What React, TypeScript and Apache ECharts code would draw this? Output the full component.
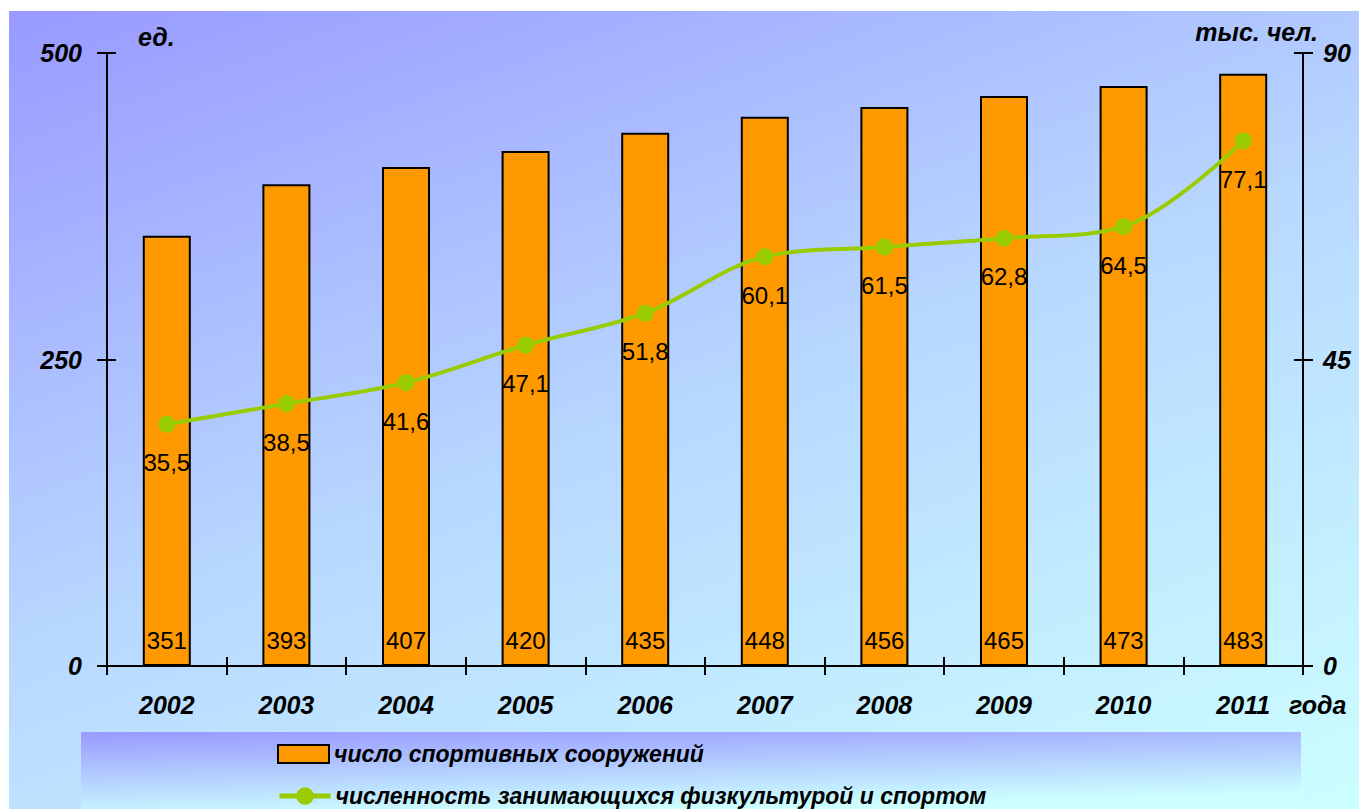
import React, { useEffect, useRef } from "react";
import * as echarts from "echarts";

const years = ["2002", "2003", "2004", "2005", "2006", "2007", "2008", "2009", "2010", "2011"];
const facilities = [351, 393, 407, 420, 435, 448, 456, 465, 473, 483];
const participants = [35.5, 38.5, 41.6, 47.1, 51.8, 60.1, 61.5, 62.8, 64.5, 77.1];
const barName = "число спортивных сооружений";
const lineName = "численность занимающихся физкультурой и спортом";
const leftUnit = "ед.";
const rightUnit = "тыс. чел.";
const xUnit = "года";

const FONT = "Arial, 'Liberation Sans', sans-serif";

export default function App() {
  const ref = useRef<HTMLDivElement>(null);
  useEffect(() => {
    if (!ref.current) return;
    const chart = echarts.init(ref.current, null, { renderer: "svg" });
    const axisLabelStyle = {
      fontFamily: FONT,
      fontSize: 25,
      fontWeight: "bold" as const,
      fontStyle: "italic" as const,
      color: "#000",
    };
    const lineStyle = { color: "#000", width: 2 };
    const legendText = {
      fontFamily: FONT,
      fontSize: 23,
      lineHeight: 24,
      fontWeight: "bold" as const,
      fontStyle: "italic" as const,
      color: "#000",
    };
    chart.setOption({
      animation: false,
      backgroundColor: "transparent",
      grid: { left: 98, right: 56, top: 42, bottom: 143, containLabel: false },
      legend: [
        {
          left: 268,
          top: 731,
          padding: 0,
          itemWidth: 51,
          itemHeight: 18,
          itemGap: 8,
          selectedMode: false,
          textStyle: legendText,
          data: [{ name: barName, icon: "rect" }],
        },
        {
          left: 268,
          top: 773,
          padding: 0,
          itemWidth: 51,
          itemHeight: 22,
          itemGap: 8,
          selectedMode: false,
          textStyle: legendText,
          lineStyle: { width: 5 },
          data: [{ name: lineName }],
        },
      ],
      graphic: [
        {
          type: "rect",
          z: -10,
          shape: { x: 72, y: 721, width: 1220, height: 80 },
          style: {
            fill: new echarts.graphic.LinearGradient(0, 0, 0.35, 1, [
              { offset: 0, color: "#9999ff" },
              { offset: 1, color: "#ccffff" },
            ]),
          },
        },
        {
          type: "text",
          left: 129,
          top: 13,
          style: { text: leftUnit, ...axisLabelStyle, fill: "#000" },
        },
        {
          type: "text",
          right: 41,
          top: 8,
          style: { text: rightUnit, ...axisLabelStyle, fill: "#000" },
        },
        {
          type: "text",
          left: 1280,
          top: 681,
          style: { text: xUnit, ...axisLabelStyle, fill: "#000" },
        },
      ],
      xAxis: [
        {
          type: "category",
          data: years,
          boundaryGap: true,
          axisLine: { lineStyle },
          axisTick: { show: true, length: 9, lineStyle, alignWithLabel: false },
          axisLabel: { ...axisLabelStyle, margin: 26 },
          splitLine: { show: false },
        },
        {
          type: "category",
          data: years,
          position: "bottom",
          boundaryGap: true,
          axisLine: { show: false },
          axisTick: { show: true, inside: true, length: 9, lineStyle },
          axisLabel: { show: false },
        },
      ],
      yAxis: [
        {
          type: "value",
          min: 0,
          max: 500,
          interval: 250,
          position: "left",
          axisLine: { show: true, lineStyle },
          axisTick: { show: true, length: 10, lineStyle },
          axisLabel: { ...axisLabelStyle, margin: 25 },
          splitLine: { show: false },
        },
        {
          type: "value",
          min: 0,
          max: 90,
          interval: 45,
          position: "right",
          axisLine: { show: true, lineStyle },
          axisTick: { show: true, length: 10, lineStyle },
          axisLabel: { ...axisLabelStyle, margin: 20 },
          splitLine: { show: false },
        },
        {
          type: "value",
          min: 0,
          max: 500,
          interval: 250,
          position: "left",
          axisLine: { show: false },
          axisTick: { show: true, inside: true, length: 9, lineStyle },
          axisLabel: { show: false },
          splitLine: { show: false },
        },
        {
          type: "value",
          min: 0,
          max: 90,
          interval: 45,
          position: "right",
          axisLine: { show: false },
          axisTick: { show: true, inside: true, length: 9, lineStyle },
          axisLabel: { show: false },
          splitLine: { show: false },
        },
      ],
      series: [
        {
          name: barName,
          type: "bar",
          xAxisIndex: 0,
          yAxisIndex: 0,
          data: facilities,
          barWidth: 48,
          itemStyle: { color: "#ff9900", borderColor: "#000", borderWidth: 2 },
          label: {
            show: true,
            position: "insideBottom",
            distance: 14,
            fontFamily: FONT,
            fontSize: 24,
            color: "#000",
          },
        },
        {
          name: lineName,
          type: "line",
          xAxisIndex: 0,
          yAxisIndex: 1,
          data: participants,
          smooth: 0.35,
          symbol: "circle",
          symbolSize: 17,
          itemStyle: { color: "#99cc00" },
          lineStyle: { color: "#99cc00", width: 4 },
          label: {
            show: true,
            position: "bottom",
            distance: 18,
            fontFamily: FONT,
            fontSize: 24,
            color: "#000",
            formatter: (p: any) => String(p.value).replace(".", ","),
          },
          z: 5,
        },
      ],
    });
    return () => chart.dispose();
  }, []);
  return (
    <div
      ref={ref}
      style={{
        position: "absolute",
        left: 9,
        top: 11,
        width: 1350,
        height: 798,
        background: "linear-gradient(160deg, #9999ff 0%, #b8d8ff 50%, #ccffff 100%)",
      }}
    />
  );
}
